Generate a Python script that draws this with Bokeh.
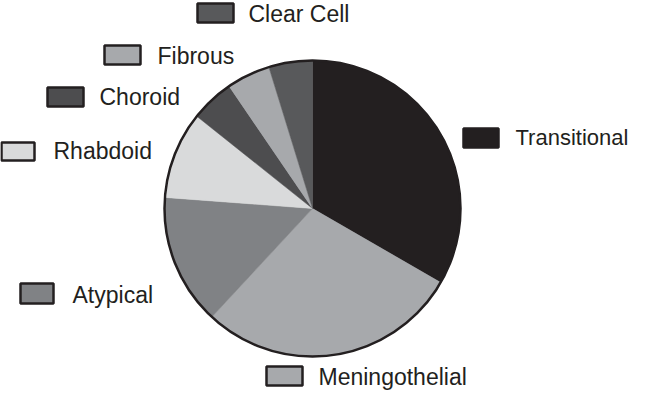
import numpy as np
from bokeh.plotting import figure
from bokeh.models import Range1d, ColumnDataSource
from bokeh.core.properties import value
from bokeh.embed import file_html
from bokeh.resources import INLINE

# ---- data ----
categories = ["Transitional", "Meningothelial", "Atypical", "Rhabdoid",
              "Choroid", "Fibrous", "Clear Cell"]
counts = [7, 6, 3, 2, 1, 1, 1]
colors = ["#231f20", "#a7a9ac", "#808285", "#d9dadb", "#4d4d4f", "#a7a9ac", "#58595b"]

# ---- layout (image pixel coords, y down) ----
W, H = 631, 390
pie_cx, pie_cy, pie_r = 312, 208, 148
# swatch left, top, right, bottom
sw_boxes = [
    (463, 128, 498, 147),
    (266, 366, 302, 385),
    (20, 283, 53, 303),
    (1, 142, 34, 160),
    (47, 87, 83, 106),
    (104, 45, 140, 64),
    (197, 3, 233, 22),
]
# text x, anchor y, size
txt_pos = [
    (515, 137, "22px"),
    (318, 376, "23px"),
    (72, 294, "23px"),
    (53, 150, "23px"),
    (99, 96, "23px"),
    (157, 55, "23px"),
    (248, 13, "23px"),
]

def fy(y):
    return 406 - y

p = figure(width=W, height=H, output_backend="svg", toolbar_location=None,
           x_range=Range1d(0, W), y_range=Range1d(406 - H, 406),
           min_border=0)
p.axis.visible = False
p.grid.visible = False
p.outline_line_color = None
p.background_fill_color = "white"

total = float(sum(counts))
cum = np.concatenate([[0], np.cumsum(counts)]) / total
start = np.pi / 2 - cum[1:] * 2 * np.pi
end = np.pi / 2 - cum[:-1] * 2 * np.pi

src = ColumnDataSource(dict(start=start, end=end, color=colors, cat=categories))
p.wedge(x=pie_cx, y=fy(pie_cy), radius=pie_r, start_angle="start", end_angle="end",
        fill_color="color", line_color="color", line_width=0.5, source=src)
p.circle(x=pie_cx, y=fy(pie_cy), radius=pie_r, fill_color=None,
         line_color="#231f20", line_width=2.5)

sx = [(b[0] + b[2]) / 2 for b in sw_boxes]
sy = [fy((b[1] + b[3]) / 2) for b in sw_boxes]
sw = [b[2] - b[0] for b in sw_boxes]
sh = [b[3] - b[1] for b in sw_boxes]
p.rect(x=sx, y=sy, width=sw, height=sh, fill_color=colors,
       line_color="#231f20", line_width=2.5)

tsrc = ColumnDataSource(dict(x=[t[0] for t in txt_pos], y=[fy(t[1]) for t in txt_pos],
                             text=categories, size=[t[2] for t in txt_pos]))
p.text(x="x", y="y", text="text", source=tsrc,
       text_font=value("Liberation Sans"), text_font_size="size",
       text_color="#231f20", text_baseline="alphabetic", text_align="left")

open("out.html", "w").write(file_html(p, INLINE))
